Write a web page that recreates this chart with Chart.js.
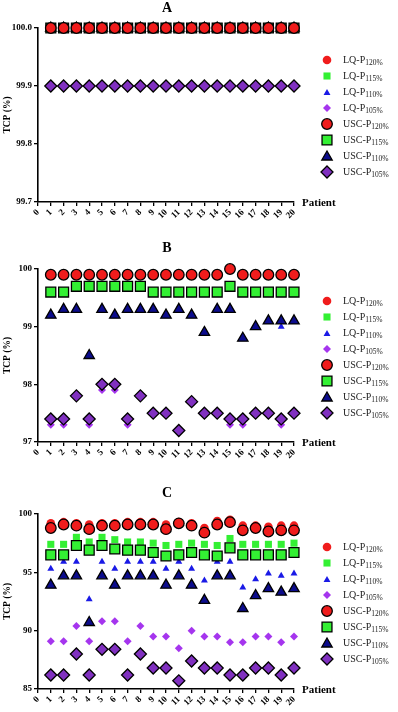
<!DOCTYPE html>
<html><head><meta charset="utf-8">
<script src="https://cdn.jsdelivr.net/npm/chart.js@4.4.1/dist/chart.umd.min.js"></script>
<style>
html,body{margin:0;padding:0;background:#fff;}
#wrap{position:relative;width:398px;height:712px;overflow:hidden;font-family:'Liberation Serif','Times New Roman',serif;}
canvas.ch{position:absolute;left:0;}
.title{position:absolute;font-weight:bold;font-size:14px;transform:translate(-50%,-50%);z-index:2;color:#000;}
.pat{position:absolute;font-weight:bold;font-size:11px;transform:translateY(-50%);z-index:2;color:#000;}
.lrow{position:absolute;left:343px;font-size:10px;color:#222;white-space:nowrap;transform:translateY(-50%);z-index:2;line-height:12px;}
.lrow sub{font-size:7.5px;vertical-align:-2px;line-height:0;}
canvas.mk{position:absolute;left:319px;z-index:2;}
</style></head>
<body><div id="wrap"></div>
<script>
// ---------- data ----------
const patients = [1,2,3,4,5,6,7,8,9,10,11,12,13,14,15,16,17,18,19,20];
const seriesLabels = ['LQ-P|120%','LQ-P|115%','LQ-P|110%','LQ-P|105%','USC-P|120%','USC-P|115%','USC-P|110%','USC-P|105%'];

// Panel A
const A_LQ_P120  = [100,100,100,100,100,100,100,100,100,100,100,100,100,100,100,100,100,100,100,100];
const A_LQ_P115  = [100,100,100,100,100,100,100,100,100,100,100,100,100,100,100,100,100,100,100,100];
const A_LQ_P110  = [100,100,100,100,100,100,100,100,100,100,100,100,100,100,100,100,100,100,100,100];
const A_LQ_P105  = [99.9,99.9,99.9,99.9,99.9,99.9,99.9,99.9,99.9,99.9,99.9,99.9,99.9,99.9,99.9,99.9,99.9,99.9,99.9,99.9];
const A_USC_P120 = [100,100,100,100,100,100,100,100,100,100,100,100,100,100,100,100,100,100,100,100];
const A_USC_P115 = [100,100,100,100,100,100,100,100,100,100,100,100,100,100,100,100,100,100,100,100];
const A_USC_P110 = [100,100,100,100,100,100,100,100,100,100,100,100,100,100,100,100,100,100,100,100];
const A_USC_P105 = [99.9,99.9,99.9,99.9,99.9,99.9,99.9,99.9,99.9,99.9,99.9,99.9,99.9,99.9,99.9,99.9,99.9,99.9,99.9,99.9];
const A_yTicks = [99.7, 99.8, 99.9, 100.0];

// Panel B
const B_LQ_P120  = [99.9,99.9,99.9,99.9,99.9,99.9,99.9,99.9,99.9,99.9,99.9,99.9,99.9,99.9,100.0,99.9,99.9,99.9,99.9,99.9];
const B_LQ_P115  = [99.6,99.6,99.7,99.7,99.7,99.7,99.7,99.7,99.6,99.6,99.6,99.6,99.6,99.6,99.7,99.6,99.6,99.6,99.6,99.6];
const B_LQ_P110  = [99.2,99.3,99.3,98.5,99.3,99.2,99.3,99.3,99.3,99.2,99.3,99.2,98.9,99.3,99.3,98.8,99.0,99.1,99.0,99.1];
const B_LQ_P105  = [97.3,97.3,97.8,97.3,97.9,97.9,97.3,97.8,97.5,97.5,97.2,97.7,97.5,97.5,97.3,97.3,97.5,97.5,97.3,97.5];
const B_USC_P120 = [99.9,99.9,99.9,99.9,99.9,99.9,99.9,99.9,99.9,99.9,99.9,99.9,99.9,99.9,100.0,99.9,99.9,99.9,99.9,99.9];
const B_USC_P115 = [99.6,99.6,99.7,99.7,99.7,99.7,99.7,99.7,99.6,99.6,99.6,99.6,99.6,99.6,99.7,99.6,99.6,99.6,99.6,99.6];
const B_USC_P110 = [99.2,99.3,99.3,98.5,99.3,99.2,99.3,99.3,99.3,99.2,99.3,99.2,98.9,99.3,99.3,98.8,99.0,99.1,99.1,99.1];
const B_USC_P105 = [97.4,97.4,97.8,97.4,98.0,98.0,97.4,97.8,97.5,97.5,97.2,97.7,97.5,97.5,97.4,97.4,97.5,97.5,97.4,97.5];
const B_yTicks = [97, 98, 99, 100];

// Panel C
const C_LQ_P120  = [99.2,99.3,99.2,99.1,99.2,99.2,99.3,99.3,99.3,99.1,99.3,99.2,98.8,99.4,99.5,99.0,99.0,98.9,99.0,99.0];
const C_LQ_P115  = [97.4,97.4,98.0,97.6,98.0,97.8,97.6,97.6,97.5,97.3,97.4,97.5,97.4,97.3,97.9,97.4,97.4,97.4,97.4,97.5];
const C_LQ_P110  = [95.3,95.9,95.9,92.7,95.9,95.3,95.9,95.9,95.9,95.3,95.9,95.3,94.3,95.9,95.9,93.7,94.4,94.9,94.7,94.9];
const C_LQ_P105  = [89.1,89.1,90.4,89.1,90.8,90.8,89.1,90.4,89.5,89.5,88.5,90.0,89.5,89.5,89.0,89.0,89.5,89.5,89.0,89.5];
const C_USC_P120 = [98.8,99.1,99.0,98.7,99.0,99.0,99.1,99.1,99.1,98.7,99.2,99.0,98.4,99.1,99.3,98.6,98.8,98.5,98.6,98.6];
const C_USC_P115 = [96.5,96.5,97.3,96.9,97.3,97.0,96.9,96.9,96.7,96.4,96.5,96.7,96.5,96.4,97.1,96.5,96.5,96.5,96.5,96.7];
const C_USC_P110 = [93.9,94.7,94.7,90.7,94.7,93.9,94.7,94.7,94.7,93.9,94.7,93.9,92.6,94.7,94.7,91.9,93.0,93.6,93.3,93.6];
const C_USC_P105 = [86.2,86.2,88.0,86.2,88.4,88.4,86.2,88.0,86.8,86.8,85.7,87.4,86.8,86.8,86.2,86.2,86.8,86.8,86.2,86.8];
const C_yTicks = [85, 90, 95, 100];

// ---------- styles ----------
const FONT = "'Liberation Serif','Times New Roman',serif";
const STY = [
  {ps:'circle',  r:4.3, bg:'#f01c1c', bc:'#f01c1c', bw:0},   // LQ-P120
  {ps:'rect',    r:5.0, bg:'#33f033', bc:'#33f033', bw:0},   // LQ-P115
  {ps:'triangle',r:4.0, bg:'#1a1ae6', bc:'#1a1ae6', bw:0},   // LQ-P110
  {ps:'rectRot', r:4.0, bg:'#a535ee', bc:'#a535ee', bw:0},   // LQ-P105
  {ps:'circle',  r:5.3, bg:'#f01c1c', bc:'#000', bw:1.3},    // USC-P120
  {ps:'rect',    r:7.0, bg:'#33f033', bc:'#000', bw:1.3},    // USC-P115
  {ps:'triangle',r:6.0, bg:'#0c0c8c', bc:'#000', bw:1.3},    // USC-P110
  {ps:'rectRot', r:6.0, bg:'#8030c0', bc:'#000', bw:1.3}     // USC-P105
];

const wrap = document.getElementById('wrap');

function addDiv(cls, html, x, y){
  const d = document.createElement('div');
  d.className = cls; d.innerHTML = html;
  d.style.left = x + 'px'; d.style.top = y + 'px';
  wrap.appendChild(d); return d;
}

function drawMarker(ctx, s, x, y){
  ctx.beginPath();
  const r = s.r;
  if (s.ps === 'circle') ctx.arc(x, y, r, 0, Math.PI*2);
  else if (s.ps === 'rect'){ const h = r*Math.SQRT1_2; ctx.rect(x-h, y-h, 2*h, 2*h); }
  else if (s.ps === 'triangle'){
    let a = 0;
    ctx.moveTo(x + Math.sin(a)*r, y - Math.cos(a)*r);
    a += 2*Math.PI/3; ctx.lineTo(x + Math.sin(a)*r, y - Math.cos(a)*r);
    a += 2*Math.PI/3; ctx.lineTo(x + Math.sin(a)*r, y - Math.cos(a)*r);
    ctx.closePath();
  } else if (s.ps === 'rectRot'){
    ctx.moveTo(x, y-r); ctx.lineTo(x+r, y); ctx.lineTo(x, y+r); ctx.lineTo(x-r, y); ctx.closePath();
  }
  ctx.fillStyle = s.bg; ctx.fill();
  if (s.bw > 0){ ctx.lineWidth = s.bw; ctx.strokeStyle = s.bc; ctx.stroke(); }
}

function legend(y0){
  seriesLabels.forEach((lab, i) => {
    const y = y0 + 16*i;
    const c = document.createElement('canvas');
    c.className = 'mk'; c.width = 16; c.height = 16;
    c.style.top = (y - 8) + 'px';
    wrap.appendChild(c);
    drawMarker(c.getContext('2d'), STY[i], 8, i % 4 === 2 ? 9 : 8);
    const [a, b] = lab.split('|');
    addDiv('lrow', a + '<sub>' + b + '</sub>', 343, y);
  });
}

function makePanel(top, areaH, xH, series, yTicks, dec){
  const c = document.createElement('canvas');
  c.className = 'ch';
  const H = 28 + areaH + xH;
  c.width = 398; c.height = H; c.style.top = top + 'px';
  wrap.appendChild(c);
  // draw order: USC on top of LQ, P120 on top of P115
  const order = [4,5,6,7,0,1,2,3];
  const datasets = order.map(i => ({
    label: seriesLabels[i].replace('|',''),
    data: patients.map((p, k) => ({x: p, y: series[i][k]})),
    pointStyle: STY[i].ps, pointRadius: STY[i].r, pointHoverRadius: STY[i].r,
    backgroundColor: STY[i].bg, borderColor: STY[i].bc, borderWidth: STY[i].bw,
    showLine: false, clip: false
  }));
  const step = yTicks[1] - yTicks[0];
  new Chart(c, {
    type: 'scatter',
    data: {datasets},
    options: {
      responsive: false, animation: false, devicePixelRatio: 1,
      layout: {padding: {left: 0, right: 104, top: 28, bottom: 0}},
      plugins: {legend: {display: false}, tooltip: {enabled: false}},
      scales: {
        x: {
          type: 'linear', min: 0, max: 20,
          afterFit: s => { s.height = xH; },
          ticks: {stepSize: 1, autoSkip: false, maxRotation: 45, minRotation: 45,
                  color: '#000', padding: 1, font: {family: FONT, weight: 'bold', size: 9}},
          grid: {display: true, drawOnChartArea: false, drawTicks: true, tickLength: 4, color: '#000', lineWidth: 1.3},
          border: {display: true, color: '#000', width: 1.6}
        },
        y: {
          min: yTicks[0], max: yTicks[yTicks.length-1],
          afterFit: s => { s.width = 38; },
          afterBuildTicks: s => { s.ticks = yTicks.map(v => ({value: v})); },
          ticks: {stepSize: step, color: '#000', padding: 2,
                  font: {family: FONT, weight: 'bold', size: 9},
                  callback: v => Number(v).toFixed(dec)},
          title: {display: true, text: 'TCP (%)', color: '#000', padding: {top: 2, bottom: 0},
                  font: {family: FONT, weight: 'bold', size: 9.5}},
          grid: {display: true, drawOnChartArea: false, drawTicks: true, tickLength: 4, color: '#000', lineWidth: 1.3},
          border: {display: true, color: '#000', width: 1.6}
        }
      }
    }
  });
}

// Panel A
makePanel(0, 174, 28, [A_LQ_P120,A_LQ_P115,A_LQ_P110,A_LQ_P105,A_USC_P120,A_USC_P115,A_USC_P110,A_USC_P105], A_yTicks, 1);
addDiv('title', 'A', 167, 8);
addDiv('pat', 'Patient', 302, 202);
legend(60);

// Panel B
makePanel(241, 173, 28, [B_LQ_P120,B_LQ_P115,B_LQ_P110,B_LQ_P105,B_USC_P120,B_USC_P115,B_USC_P110,B_USC_P105], B_yTicks, 0);
addDiv('title', 'B', 167, 248);
addDiv('pat', 'Patient', 302, 442);
legend(301);

// Panel C
makePanel(486, 175, 23, [C_LQ_P120,C_LQ_P115,C_LQ_P110,C_LQ_P105,C_USC_P120,C_USC_P115,C_USC_P110,C_USC_P105], C_yTicks, 0);
addDiv('title', 'C', 167, 493);
addDiv('pat', 'Patient', 302, 689);
legend(547);
</script></body></html>
